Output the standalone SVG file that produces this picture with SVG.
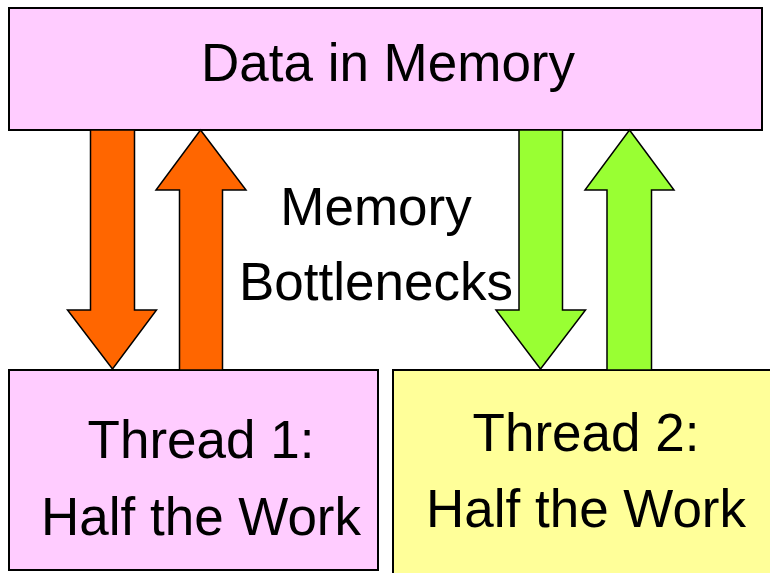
<svg xmlns="http://www.w3.org/2000/svg" width="770" height="573" viewBox="0 0 770 573">
<style>
.box{stroke:#000;stroke-width:2}
.pink{fill:#FFCCFF}
.yellow{fill:#FFFF99}
.arr{stroke:#000;stroke-width:1.5;stroke-linejoin:miter}
.orange{fill:#FF6600}
.green{fill:#99FF33}
text{font-family:"Liberation Sans",Arial,sans-serif;font-size:53px;fill:#000;text-anchor:middle}
</style>
<rect width="770" height="573" fill="#fff"/>
<g id="memory">
<rect class="box pink" x="9" y="8" width="753" height="122"/>
<text x="388" y="81">Data in Memory</text>
</g>
<g id="thread1">
<rect class="box pink" x="9" y="370" width="369" height="200"/>
<text x="201" y="458">Thread 1:</text>
<text x="201" y="535">Half the Work</text>
</g>
<g id="thread2">
<rect class="box yellow" x="393" y="370" width="390" height="215"/>
<text x="586" y="451">Thread 2:</text>
<text x="586" y="527">Half the Work</text>
</g>
<g id="label">
<text x="376" y="225">Memory</text>
<text x="376" y="300">Bottlenecks</text>
</g>
<g id="connectors">
<polygon class="arr orange" points="90.5,130 134.5,130 134.5,310 156.5,310 112.5,369 67.5,310 90.5,310"/>
<polygon class="arr orange" points="200.5,130 246,190 222.5,190 222.5,370 179.5,370 179.5,190 156,190"/>
<polygon class="arr green" points="519,130 562.5,130 562.5,310 585.5,310 540.5,369 496,310 519,310"/>
<polygon class="arr green" points="629.5,130 674,190 651.5,190 651.5,370 607,370 607,190 585,190"/>
</g>
</svg>
